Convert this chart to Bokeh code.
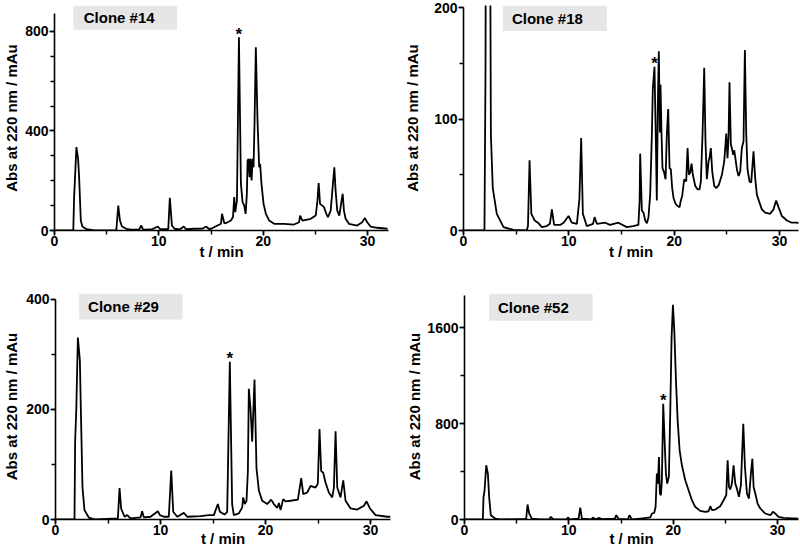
from bokeh.plotting import figure
from bokeh.layouts import column, row
from bokeh.models import SingleIntervalTicker, Range1d, ColumnDataSource
from bokeh.core.properties import value
from bokeh.embed import file_html
from bokeh.resources import INLINE

# ---------------- data ----------------
clone14_t = [0, 1.8, 1.88, 2.1, 2.26, 2.36, 2.52, 2.67, 3.06, 3.85, 5.92, 6.11, 6.27, 6.46, 6.88, 7.35,
             8.1, 8.31, 8.5, 9.3, 9.9, 10.15, 10.9, 11.05, 11.25, 11.5, 12.0, 12.38, 12.6, 13.4, 14.2,
             14.52, 14.8, 15.0, 15.95, 16.05, 16.27, 16.59, 16.9, 17.1, 17.22, 17.32, 17.48, 17.67, 17.86,
             18.02, 18.18, 18.31, 18.43, 18.5, 18.59, 18.69, 18.78, 18.88, 18.98, 19.07, 19.17, 19.29,
             19.45, 19.61, 19.7, 19.83, 20.03, 20.25, 20.57, 21.05, 22.0, 22.95, 23.43, 23.53, 23.75,
             24.55, 25.03, 25.19, 25.31, 25.44, 25.66, 25.82, 26.04, 26.2, 26.46, 26.65, 26.81, 26.93,
             27.09, 27.29, 27.48, 27.61, 27.73, 27.89, 28.21, 29.0, 29.48, 29.74, 29.96, 30.28, 30.92, 31.9]
clone14_abs = [0, 0, 134, 335, 288, 214, 40, 16, 5, 0, 0, 100, 40, 16, 7, 3,
               3, 20, 3, 4, 16, 5, 5, 131, 20, 7, 4, 16, 5, 7, 8,
               16, 6, 7, 27, 67, 29, 33, 40, 54, 134, 74, 120, 776, 187,
               114, 100, 67, 147, 281, 288, 214, 288, 201, 288, 254, 442, 736,
               442, 254, 268, 187, 107, 67, 40, 27, 27, 24, 33, 60, 40,
               47, 60, 120, 191, 107, 100, 94, 67, 54, 80, 174, 254, 161,
               80, 60, 114, 147, 80, 47, 27, 20, 33, 50, 33, 16, 11, 7]

clone18_t = [0, 1.99, 2.09, 2.15, 2.3, 2.47, 2.6, 2.78, 3.16, 3.8, 4.75, 6.0, 6.12, 6.27, 6.44, 6.75,
             7.07, 7.44, 7.9, 8.2, 8.39, 8.6, 9.17, 9.5, 9.97, 10.28, 10.76, 11.0, 11.17, 11.33, 11.7,
             12.3, 12.44, 12.66, 13.45, 13.9, 14.7, 15.5, 16.1, 16.6, 16.72, 16.77, 16.93, 17.09, 17.25,
             17.41, 17.56, 17.72, 17.88, 17.97, 18.13, 18.26, 18.35, 18.45, 18.54, 18.64, 18.7, 18.8,
             18.89, 19.05, 19.18, 19.3, 19.43, 19.56, 19.68, 19.81, 19.94, 20.13, 20.32, 20.51, 20.63,
             20.76, 20.95, 21.14, 21.27, 21.39, 21.52, 21.65, 21.77, 22.0, 22.22, 22.41, 22.53, 22.69,
             22.85, 22.97, 23.1, 23.26, 23.35, 23.48, 23.61, 23.8, 23.99, 24.24, 24.53, 24.75, 24.94,
             25.06, 25.16, 25.25, 25.38, 25.47, 25.6, 25.7, 25.79, 25.95, 26.11, 26.27, 26.42, 26.58,
             26.71, 26.84, 26.96, 27.15, 27.31, 27.53, 27.69, 27.85, 28.1, 28.32, 28.64, 29.11, 29.43,
             29.68, 29.9, 30.22, 30.7, 31.17, 31.65, 31.9]
clone18_abs = [0, 0, 145, 420, 430, 420, 86, 38, 15, 3, 0.5, 0, 4, 63, 15, 9,
               7, 3, 4, 6, 19, 5, 5, 7, 13, 7, 6, 28, 83, 15, 4,
               6, 12, 6, 7, 5, 7, 3, 4, 5, 27, 69, 18, 16, 9,
               6.5, 12, 32, 86, 127, 147, 80, 27, 115, 161, 88, 131, 86,
               56, 52, 46, 86, 109, 56, 55, 38, 29, 24, 22, 21, 27,
               31, 46, 44, 74, 50, 52, 60, 50, 40, 37, 37, 44, 86,
               146, 80, 46, 62, 65, 74, 53, 40, 38, 41, 50, 62, 87,
               65, 84, 133, 77, 74, 68, 72, 66, 55, 49, 53, 74, 80,
               162, 86, 55, 44, 43, 71, 47, 32, 25, 19, 16, 15, 19,
               27, 21, 13, 9, 7, 7, 6.5]

clone29_t = [0, 1.81, 1.87, 1.98, 2.13, 2.32, 2.44, 2.57, 2.76, 3.17, 3.81, 5.94, 6.1, 6.25, 6.57, 6.83,
             7.14, 8.1, 8.25, 8.41, 9.05, 9.75, 9.94, 10.32, 10.79, 11.02, 11.21, 11.59, 12.22, 12.54,
             13.81, 14.6, 15.08, 15.46, 15.65, 16.1, 16.35, 16.6, 16.82, 16.98, 17.46, 17.78, 17.87,
             18.03, 18.19, 18.32, 18.41, 18.57, 18.73, 18.95, 19.14, 19.37, 19.68, 20.16, 20.54, 20.79,
             21.11, 21.27, 21.43, 21.68, 21.9, 22.38, 23.08, 23.4, 23.59, 23.97, 24.29, 24.76, 24.98,
             25.14, 25.3, 25.49, 25.71, 26.03, 26.35, 26.51, 26.67, 26.83, 27.14, 27.4, 27.62, 28.1,
             28.73, 29.37, 29.62, 29.94, 30.48, 31.59, 31.9]
clone29_abs = [0, 0, 141, 200, 330, 289, 176, 58, 17, 3.5, 0, 2, 57, 20, 5, 8,
               2, 4, 15, 4, 5, 15, 8, 5, 5, 89, 14, 5, 12, 5,
               6, 8, 8, 28, 14, 9, 14, 286, 28, 8, 11, 22, 40,
               28, 34, 88, 237, 201, 141, 254, 93, 52, 34, 28, 36, 28,
               21, 30, 17, 37, 33, 34, 36, 75, 46, 49, 61, 58, 65,
               164, 88, 85, 67, 49, 40, 58, 160, 58, 40, 71, 34, 20,
               18, 25, 33, 20, 8, 5, 5]

clone52_t = [0, 1.76, 1.82, 1.92, 2.08, 2.24, 2.36, 2.52, 2.94, 3.4, 5.91, 6.04, 6.2, 6.45, 7.25, 8.1,
             8.27, 8.53, 9.75, 9.9, 10.13, 10.93, 11.09, 11.25, 12.15, 12.3, 12.5, 12.93, 13.2, 14.4,
             14.54, 14.76, 15.65, 15.81, 16.03, 16.84, 17.8, 17.96, 18.18, 18.31, 18.43, 18.53, 18.63,
             18.72, 18.82, 18.91, 19.04, 19.17, 19.3, 19.42, 19.58, 19.71, 19.84, 19.97, 20.1, 20.26,
             20.42, 20.61, 20.83, 21.15, 21.47, 21.79, 22.1, 22.58, 23.07, 23.39, 23.55, 23.71, 24.03,
             24.5, 24.82, 25.08, 25.21, 25.34, 25.46, 25.62, 25.78, 25.94, 26.1, 26.29, 26.48, 26.71,
             26.87, 27.06, 27.25, 27.44, 27.58, 27.7, 27.86, 28.08, 28.34, 28.82, 29.3, 29.55, 29.78,
             30.09, 30.57, 31.21, 32.0]
clone52_abs = [0, 0, 189, 240, 453, 383, 189, 36, 8, 0, 5, 125, 50, 8, 0, 0,
               22, 0, 0, 17, 0, 8, 100, 8, 0, 17, 2, 13, 2, 8,
               36, 5, 0, 36, 0, 8, 17, 50, 56, 106, 383, 300, 522,
               217, 203, 328, 967, 661, 383, 300, 356, 883, 1522, 1794, 1578, 1161,
               828, 578, 453, 328, 244, 161, 106, 72, 64, 69, 111, 78, 83,
               111, 161, 203, 494, 272, 250, 300, 453, 300, 258, 189, 286, 800,
               439, 217, 175, 383, 508, 272, 217, 133, 92, 50, 36, 64, 50,
               22, 14, 11, 8]

clone_names = ["Clone #14", "Clone #18", "Clone #29", "Clone #52"]
star_t = [17.67, 18.13, 16.6, 19.04]
star_abs = [776, 147, 286, 967]

x_label = "t / min"
y_label = "Abs at 220 nm / mAu"

FONT = "Liberation Sans"


def make_panel(t, a, name, st, sa, width, height, bl, br, bt, bb, x_end, y_end, y_bound,
               y_major, y_minor_n, box_l, box_r, box_b, txt_x, ylab_standoff, xlab_standoff):
    p = figure(width=width, height=height, output_backend="svg", toolbar_location=None,
               x_range=Range1d(0, x_end), y_range=Range1d(0, y_end),
               min_border_left=bl, min_border_right=br, min_border_top=bt, min_border_bottom=bb)
    p.outline_line_color = None
    p.grid.visible = False
    p.background_fill_color = "white"
    p.border_fill_color = "white"

    # label box
    p.quad(left=[box_l], right=[box_r], bottom=[box_b], top=[y_end],
           fill_color="#e6e6e6", line_color=None)
    p.text(x=[txt_x], y=[(box_b + y_end) / 2], text=[name], text_font=value(FONT),
           text_font_style="bold", text_font_size="15px", text_align="left",
           text_baseline="middle", text_color="black")

    src = ColumnDataSource(dict(t=t, a=a))
    p.line("t", "a", source=src, line_color="black", line_width=1.8)

    p.text(x=[st], y=[sa], text=["*"], text_font=value(FONT), text_font_style="bold",
           text_font_size="17px", text_align="center", text_baseline="middle",
           y_offset=-3, text_color="black")

    p.xaxis.ticker = SingleIntervalTicker(interval=10, num_minor_ticks=2)
    p.yaxis.ticker = SingleIntervalTicker(interval=y_major, num_minor_ticks=y_minor_n)
    p.yaxis.bounds = (0, y_bound)

    for ax in (p.xaxis[0], p.yaxis[0]):
        ax.axis_line_width = 1.6
        ax.axis_line_color = "black"
        ax.major_tick_line_width = 1.6
        ax.minor_tick_line_width = 1.4
        ax.major_tick_line_color = "black"
        ax.minor_tick_line_color = "black"
        ax.major_tick_in = 0
        ax.major_tick_out = 5
        ax.minor_tick_in = 0
        ax.minor_tick_out = 4
        ax.major_label_text_font = FONT
        ax.major_label_text_font_style = "bold"
        ax.major_label_text_font_size = "14px"
        ax.major_label_text_color = "black"
        ax.axis_label_text_font = FONT
        ax.axis_label_text_font_style = "bold"
        ax.axis_label_text_font_size = "15px"
        ax.axis_label_text_color = "black"

    p.xaxis.axis_label = x_label
    p.yaxis.axis_label = y_label
    p.xaxis.major_label_standoff = 0
    p.xaxis.axis_label_standoff = xlab_standoff
    p.yaxis.major_label_standoff = 1
    p.yaxis.axis_label_standoff = ylab_standoff
    return p


p1 = make_panel(clone14_t, clone14_abs, clone_names[0], star_t[0], star_abs[0],
                400, 262, 53, 12, 5, 32, 32, 904, 870, 400, 4, 1.8, 11.75, 807, 2.8, 2, -6)
p2 = make_panel(clone18_t, clone18_abs, clone_names[1], star_t[1], star_abs[1],
                400, 262, 63, 2, 2, 32, 31.8, 202, 200, 100, 2, 3.74, 13.6, 179, 4.6, 10, -6)
p3 = make_panel(clone29_t, clone29_abs, clone_names[2], star_t[2], star_abs[2],
                400, 287, 55, 10, 26, 30, 31.9, 410, 400, 200, 2, 2.25, 12.1, 363, 3.1, 3, -8)
p4 = make_panel(clone52_t, clone52_abs, clone_names[3], star_t[3], star_abs[3],
                400, 287, 64, 2, 31, 30, 32, 1888, 1870, 800, 2, 2.37, 12.27, 1661, 3.2, 1, -8)

layout = column(row(p1, p2, spacing=0), row(p3, p4, spacing=0), spacing=0)

open("out.html", "w").write(file_html(layout, INLINE))
